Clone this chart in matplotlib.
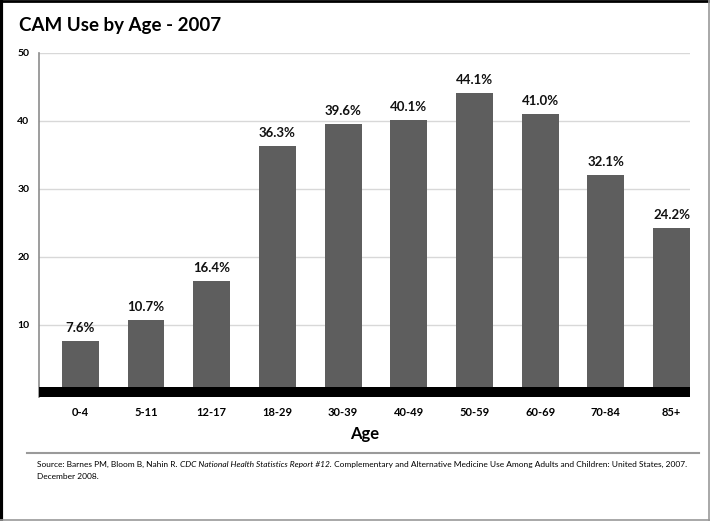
from matplotlib import pyplot as plt
import numpy as np

# CAM use by age group, 2007 (percent)
ages = ['0-4', '5-11', '12-17', '18-29', '30-39', '40-49', '50-59', '60-69', '70-84', '85+']
cam_use = [7.6, 10.7, 16.4, 36.3, 39.6, 40.1, 44.1, 41.0, 32.1, 24.2]
y_ticks = [10, 20, 30, 40, 50]

bar_color = '#5e5e5e'
font = ['Lato', 'DejaVu Sans']
plt.rcParams['font.family'] = font

fig = plt.figure(figsize=(7.1, 5.21), dpi=100)
ax = fig.add_axes([0.0549, 0.238, 0.9169, 0.6603])

x = np.arange(len(ages))
bars = ax.bar(x, cam_use, width=0.56, color=bar_color, zorder=2)

# labels above bars
for xi, v in zip(x, cam_use):
    ax.annotate('%.1f%%' % v, (xi, v), xytext=(0, 5), textcoords='offset points',
                ha='center', va='bottom', fontsize=9.5, fontweight='bold', color='#111111')

# thick black base
ax.axhspan(-0.65, 0.75, color='black', zorder=3, lw=0)

ax.set_xlim(-0.63, 9.28)
ax.set_ylim(-0.65, 50)
ax.set_yticks(y_ticks)
ax.set_yticklabels([str(t) for t in y_ticks], fontsize=7.5, fontweight='bold')
ax.set_xticks(x)
ax.set_xticklabels(ages, fontsize=8, fontweight='bold')
ax.tick_params(axis='both', length=0)
ax.tick_params(axis='x', pad=7)
ax.tick_params(axis='y', pad=7)
ax.grid(axis='y', color='#d8d8d8', lw=1, zorder=0)
for s in ['top', 'right', 'bottom']:
    ax.spines[s].set_visible(False)
ax.spines['left'].set_color('#8c8c8c')
ax.spines['left'].set_linewidth(1.2)

ax.set_xlabel('Age', fontsize=12, fontweight='bold', labelpad=6)

fig.text(0.027, 0.952, 'CAM Use by Age - 2007', fontsize=13.5, fontweight='bold', va='center')

# separator line above source
fig.add_artist(plt.Line2D([0.038, 0.985], [0.131, 0.131], color='#9a9a9a', lw=1.5))

# source note, with italic part - shrink font so the line fits
renderer = fig.canvas.get_renderer()
parts = [('Source: Barnes PM, Bloom B, Nahin R. ', 'normal'),
         ('CDC National Health Statistics Report #12.', 'italic'),
         (' Complementary and Alternative Medicine Use Among Adults and Children: United States, 2007.', 'normal')]
fs = 6.3
x0 = 37
target = 690
for attempt in range(2):
    xpos = x0
    texts = []
    for txt, style in parts:
        t = fig.text(xpos / 710, 0.109, txt, fontsize=fs, style=style, va='center', ha='left')
        xpos = t.get_window_extent(renderer=renderer).x1
        texts.append(t)
    if attempt == 0:
        fs = fs * (target - x0) / (xpos - x0)
        for t in texts:
            t.remove()
fig.text(x0 / 710, 0.085, 'December 2008.', fontsize=fs, va='center', ha='left')

# outer frame
fig.add_artist(plt.Line2D([0.002, 0.002], [0, 1], color='black', lw=3))
fig.add_artist(plt.Line2D([0, 1], [0.999, 0.999], color='black', lw=2))
fig.add_artist(plt.Line2D([0.998, 0.998], [0, 1], color='#999999', lw=1.2))
fig.add_artist(plt.Line2D([0, 1], [0.002, 0.002], color='#999999', lw=1.2))

plt.savefig('out.png', dpi=100)
